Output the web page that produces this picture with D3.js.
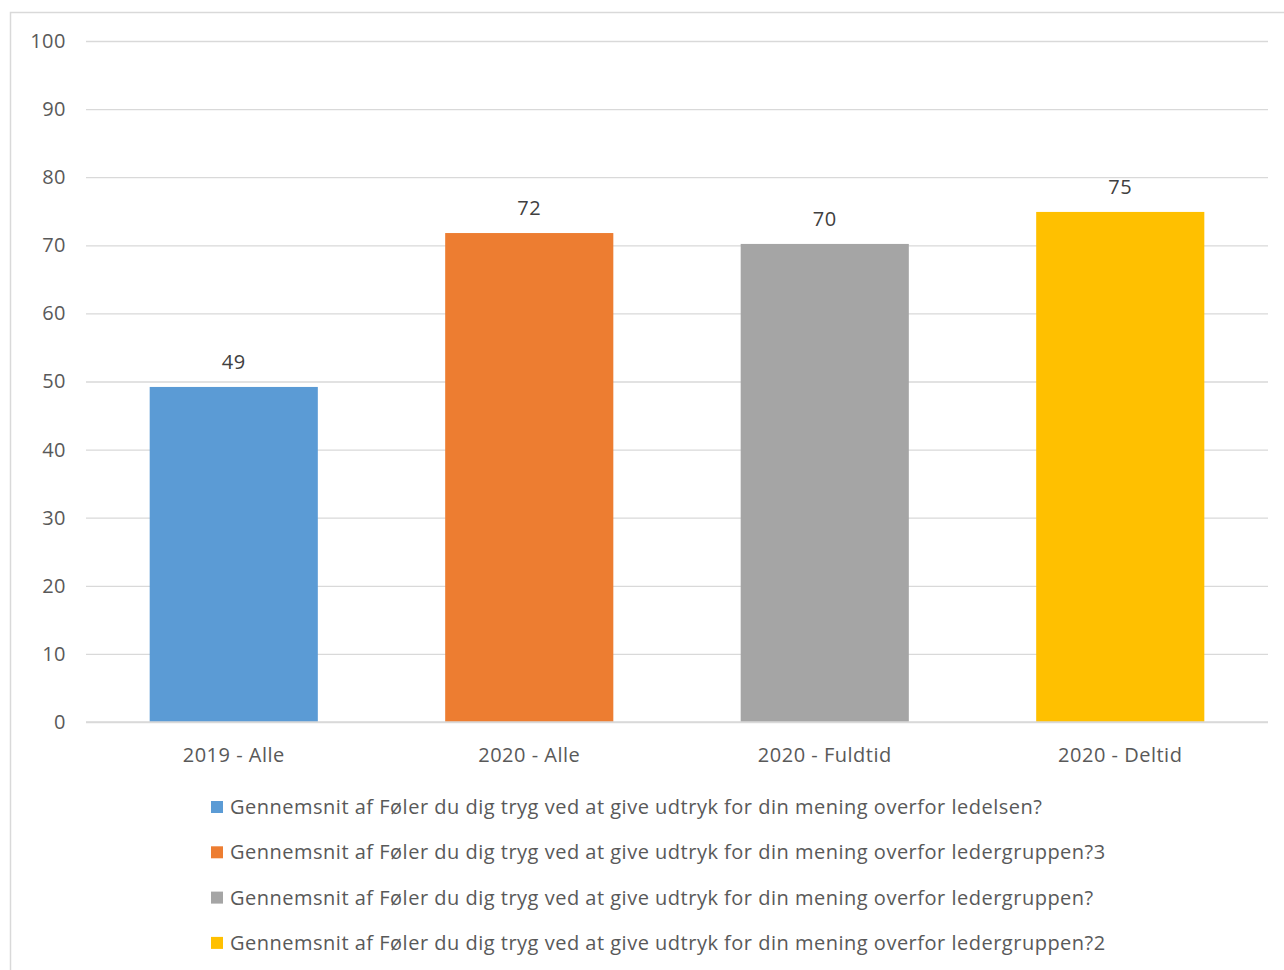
<!DOCTYPE html>
<html><head><meta charset="utf-8">
<script src="https://cdn.jsdelivr.net/npm/d3@7"></script>
<style>body{margin:0;background:#fff;}svg{display:block;}</style>
</head><body>
<script>
const categories = ["2019 - Alle", "2020 - Alle", "2020 - Fuldtid", "2020 - Deltid"];
const values = [49.2, 71.8, 70.2, 74.9];
const valueLabels = ["49", "72", "70", "75"];
const colors = ["#5b9bd5", "#ed7d31", "#a5a5a5", "#ffc000"];
const yTicks = [0, 10, 20, 30, 40, 50, 60, 70, 80, 90, 100];
const legendLabels = [
  "Gennemsnit af Føler du dig tryg ved at give udtryk for din mening overfor ledelsen?",
  "Gennemsnit af Føler du dig tryg ved at give udtryk for din mening overfor ledergruppen?3",
  "Gennemsnit af Føler du dig tryg ved at give udtryk for din mening overfor ledergruppen?",
  "Gennemsnit af Føler du dig tryg ved at give udtryk for din mening overfor ledergruppen?2"
];

const W = 1284, H = 970;
const FONT = "'Open Sans', 'Liberation Sans', sans-serif";
const svg = d3.select("body").append("svg").attr("width", W).attr("height", H);

svg.append("rect").attr("x", 10.5).attr("y", 12.5).attr("width", 1300).attr("height", 1000)
  .attr("fill", "none").attr("stroke", "#d9d9d9").attr("stroke-width", 1.5);

const x = d3.scaleBand().domain(categories).range([86, 1268]).paddingInner(0.431).paddingOuter(0.2155);
const y = d3.scaleLinear().domain([0, 100]).range([722, 41]);

function styleText(sel) {
  sel.style("font-family", FONT).style("font-size", "20px").style("letter-spacing", "0.5px");
}

const yAxis = svg.append("g").attr("transform", "translate(86,0)")
  .call(d3.axisLeft(y).tickValues(yTicks).tickSize(-1182).tickPadding(20));
yAxis.select(".domain").remove();
yAxis.selectAll(".tick line").attr("stroke", "#d9d9d9").attr("stroke-width", 1.3);
yAxis.selectAll(".tick text").attr("fill", "#595959").call(styleText);

svg.append("g").selectAll("rect").data(categories).join("rect")
  .attr("x", d => x(d)).attr("width", x.bandwidth())
  .attr("y", (d, i) => y(values[i])).attr("height", (d, i) => y(0) - y(values[i]))
  .attr("fill", (d, i) => colors[i]);

svg.append("line").attr("x1", 86).attr("x2", 1268).attr("y1", y(0)).attr("y2", y(0))
  .attr("stroke", "#d9d9d9").attr("stroke-width", 1.3);

svg.append("g").selectAll("text").data(categories).join("text")
  .attr("x", d => x(d) + x.bandwidth() / 2).attr("y", (d, i) => y(values[i]) - 18)
  .attr("text-anchor", "middle").attr("fill", "#404040")
  .call(styleText)
  .text((d, i) => valueLabels[i]);

const xAxis = svg.append("g").attr("transform", `translate(0,${y(0)})`)
  .call(d3.axisBottom(x).tickSize(0).tickPadding(26));
xAxis.select(".domain").remove();
xAxis.selectAll(".tick text").attr("fill", "#595959").call(styleText);

const lg = svg.append("g").selectAll("g").data(legendLabels).join("g")
  .attr("transform", (d, i) => `translate(211,${807 + i * 45.3})`);
lg.append("rect").attr("x", 0).attr("y", -6).attr("width", 12).attr("height", 12)
  .attr("fill", (d, i) => colors[i]);
lg.append("text").attr("x", 19).attr("y", 0).attr("dy", "0.35em").attr("fill", "#595959")
  .call(styleText).text(d => d);
</script>
</body></html>
